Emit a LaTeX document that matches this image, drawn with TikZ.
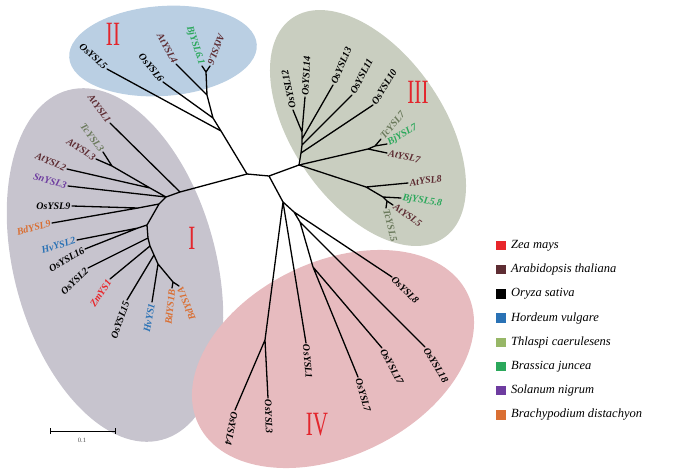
\documentclass[tikz,border=0pt]{standalone}
\usepackage{fontspec}
\setmainfont{Liberation Serif}
\definecolor{cI}{HTML}{C7C4CE}
\definecolor{cII}{HTML}{BACFE3}
\definecolor{cIII}{HTML}{C9CEC0}
\definecolor{cIV}{HTML}{E7BBBF}
\definecolor{zm}{HTML}{E8262B}
\definecolor{at}{HTML}{5E2D33}
\definecolor{hv}{HTML}{2A72B5}
\definecolor{tc}{HTML}{97B767}
\definecolor{tcd}{HTML}{6B7A5C}
\definecolor{bj}{HTML}{2BA85B}
\definecolor{sn}{HTML}{6E3CA0}
\definecolor{bd}{HTML}{DA6F33}
\definecolor{rn}{HTML}{E3262D}
\begin{document}
\begin{tikzpicture}[x=1pt,y=-1pt,
  br/.style={line width=1.3pt,line cap=round,line join=round},
  lab/.style={font=\fontsize{10}{11}\selectfont\bfseries\itshape,inner sep=1.5pt},
  le/.style={lab,anchor=east},
  lw/.style={lab,anchor=west},
  roman/.style={text=rn,font=\fontsize{34}{34}\selectfont,xscale=0.62,inner sep=0pt},
  sq/.style={minimum size=9.5pt,inner sep=0pt},
  legt/.style={font=\fontsize{12.5}{13}\selectfont\itshape,anchor=west,inner sep=0pt}]
\useasboundingbox (0,0) rectangle (683,474);
% clade backgrounds
\fill[cI, rotate around={15:(115,265)}] (115,265) ellipse (101 and 181);
\fill[cII, rotate around={4:(163,51)}] (163,51) ellipse (94 and 45);
\fill[cIII, rotate around={34.6:(368,128)}] (368,128) ellipse (75.5 and 133.5);
\fill[cIV, rotate around={26:(333,359)}] (333,359) ellipse (149.6 and 96.9);
% internal nodes
\coordinate (A) at (247,174); \coordinate (B) at (269,176);
\coordinate (D1) at (221,131); \coordinate (D2) at (213,118);
\coordinate (D3) at (207,95); \coordinate (D4) at (206,72);
\coordinate (H3) at (299,165); \coordinate (U1) at (301,153);
\coordinate (U2) at (302,145); \coordinate (U3) at (302,139);
\coordinate (U4) at (302,132);
\coordinate (T1) at (368,149); \coordinate (T2) at (375,146);
\coordinate (G1) at (366,187); \coordinate (G2) at (383,197);
\coordinate (G3) at (387,201);
\coordinate (N4a) at (283,202); \coordinate (N4b) at (294,212);
\coordinate (N4c) at (300,222); \coordinate (N4d) at (313,267);
\coordinate (N4f) at (265,340);
\coordinate (C1) at (180,192); \coordinate (C2) at (166,197);
\coordinate (C3) at (150,188); \coordinate (C4) at (112,166);
\coordinate (C5) at (159,204); \coordinate (C6) at (138,208);
\coordinate (C7) at (147,225); \coordinate (C8) at (138,228);
\coordinate (C9) at (148,238); \coordinate (C10) at (150,246);
\coordinate (C11) at (154,255); \coordinate (C12) at (158,264);
\coordinate (C13) at (173,282);
% leaves
\coordinate (Os5) at (107,69); \coordinate (Os6) at (163,82);
\coordinate (At4) at (176,64); \coordinate (Bj61) at (202,66);
\coordinate (At6) at (210,66);
\coordinate (Os10) at (373,105); \coordinate (Os11) at (352,95);
\coordinate (Os13) at (333,85); \coordinate (Os12) at (293,110);
\coordinate (Os14) at (305,97);
\coordinate (Tc7) at (381,139); \coordinate (Bj7) at (387,144);
\coordinate (At7) at (387,153);
\coordinate (At8) at (408,183); \coordinate (Bj58) at (401,198);
\coordinate (At5) at (393,205); \coordinate (Tc5) at (386,208);
\coordinate (Os4) at (235,410); \coordinate (Os3) at (268,398);
\coordinate (Os1) at (306,343); \coordinate (Os8) at (392,277);
\coordinate (Os18) at (425,347); \coordinate (Os17) at (382,348);
\coordinate (Os7) at (358,377);
\coordinate (At1) at (110,123); \coordinate (Tc3) at (103,152);
\coordinate (At3) at (96,159); \coordinate (At2) at (67,169);
\coordinate (Sn3) at (68,186); \coordinate (Os9) at (72,206);
\coordinate (Bd9) at (52,223); \coordinate (Hv2) at (77,240);
\coordinate (Os16) at (85,249); \coordinate (Os2) at (88,268);
\coordinate (Zm1) at (110,279); \coordinate (Os15) at (127,300);
\coordinate (Hv1) at (152,302); \coordinate (Bd1B) at (172,288);
\coordinate (Bd1A) at (179,286);
% branches
\draw[br] (A) -- (B) (B) -- (H3) (B) -- (N4a);
\draw[br] (A) -- (D1) -- (D2) -- (D3) -- (D4)
  (D1) -- (Os5) (D2) -- (Os6) (D3) -- (At4) (D4) -- (Bj61) (D4) -- (At6);
\draw[br] (H3) -- (U1) -- (U2) -- (U3) -- (U4)
  (U1) -- (Os10) (U2) -- (Os11) (U3) -- (Os13) (U4) -- (Os12) (U4) -- (Os14);
\draw[br] (H3) -- (T1) -- (T2) (T1) -- (At7) (T2) -- (Tc7) (T2) -- (Bj7);
\draw[br] (H3) -- (G1) -- (G2) -- (G3) (G1) -- (At8) (G2) -- (Bj58)
  (G3) -- (At5) (G3) -- (Tc5);
\draw[br] (N4a) -- (N4f) (N4f) -- (Os4) (N4f) -- (Os3) (N4a) -- (Os1)
  (N4a) -- (N4b) -- (N4c) -- (N4d) (N4b) -- (Os8) (N4c) -- (Os18)
  (N4d) -- (Os17) (N4d) -- (Os7);
\draw[br] (A) -- (C1) -- (C2) (C1) -- (At1) (C2) -- (C3) -- (C4)
  (C3) -- (At2) (C4) -- (Tc3) (C4) -- (At3) (C2) -- (Sn3)
  (C2) -- (C5) -- (C6) (C6) -- (Os9) (C6) -- (Bd9)
  (C5) -- (C7) -- (C8) (C8) -- (Hv2) (C8) -- (Os16)
  (C7) -- (C9) -- (C10) -- (C11) -- (C12) -- (C13)
  (C9) -- (Os2) (C10) -- (Zm1) (C11) -- (Os15) (C12) -- (Hv1)
  (C13) -- (Bd1B) (C13) -- (Bd1A);
% labels clade II
\node[le,rotate=-43] (lOs5) at (Os5) {OsYSL5};
\node[le,rotate=-51] (lOs6) at (Os6) {OsYSL6};
\node[le,rotate=-61,text=at] (lAt4) at (At4) {AtYSL4};
\node[le,rotate=-72,text=bj] (lBj61) at (Bj61) {BjYSL6.1};
\node[le,rotate=-110,text=at] (lAt6) at (At6) {AtYSL6};
% labels clade III
\node[lw,rotate=102] (lOs12) at (Os12) {OsYSL12};
\node[lw,rotate=87] (lOs14) at (Os14) {OsYSL14};
\node[lw,rotate=67] (lOs13) at (Os13) {OsYSL13};
\node[lw,rotate=63] (lOs11) at (Os11) {OsYSL11};
\node[lw,rotate=58] (lOs10) at (Os10) {OsYSL10};
\node[lw,rotate=50,text=tcd] (lTc7) at (Tc7) {TcYSL7};
\node[lw,rotate=30,text=bj] (lBj7) at (Bj7) {BjYSL7};
\node[lw,rotate=-12,text=at] (lAt7) at (At7) {AtYSL7};
\node[lw,rotate=8,text=at] (lAt8) at (At8) {AtYSL8};
\node[lw,rotate=-8,text=bj] (lBj58) at (Bj58) {BjYSL5.8};
\node[lw,rotate=-35,text=at] (lAt5) at (At5) {AtYSL5};
\node[lw,rotate=-76,text=tcd] (lTc5) at (Tc5) {TcYSL5};
% labels clade IV
\node[lw,rotate=-45] (lOs8) at (Os8) {OsYSL8};
\node[lw,rotate=-59] (lOs18) at (Os18) {OsYSL18};
\node[lw,rotate=-62] (lOs17) at (Os17) {OsYSL17};
\node[lw,rotate=-74] (lOs7) at (Os7) {OsYSL7};
\node[lw,rotate=-85] (lOs1) at (Os1) {OsYSL1};
\node[lw,rotate=-88] (lOs3) at (Os3) {OsYSL3};
\node[lw,rotate=-101] (lOs4) at (Os4) {OsYSL4};
% labels clade I
\node[le,rotate=-54,text=at] (lAt1) at (At1) {AtYSL1};
\node[le,rotate=-53,text=tcd] (lTc3) at (Tc3) {TcYSL3};
\node[le,rotate=-33,text=at] (lAt3) at (At3) {AtYSL3};
\node[le,rotate=-24,text=at] (lAt2) at (At2) {AtYSL2};
\node[le,rotate=-16,text=sn] (lSn3) at (Sn3) {SnYSL3};
\node[le,rotate=0] (lOs9) at (Os9) {OsYSL9};
\node[le,rotate=14,text=bd] (lBd9) at (Bd9) {BdYSL9};
\node[le,rotate=16,text=hv] (lHv2) at (Hv2) {HvYSL2};
\node[le,rotate=30] (lOs16) at (Os16) {OsYSL16};
\node[le,rotate=44] (lOs2) at (Os2) {OsYSL2};
\node[le,rotate=57,text=zm] (lZm1) at (Zm1) {ZmYS1};
\node[le,rotate=71] (lOs15) at (Os15) {OsYSL15};
\node[le,rotate=80,text=hv] (lHv1) at (Hv1) {HvYS1};
\node[le,rotate=84,text=bd] (lBd1B) at (Bd1B) {BdYS1B};
\node[le,rotate=112,text=bd] (lBd1A) at (Bd1A) {BdYS1A};
% roman numerals
\node[roman] (nII) at (113,34) {II};
\node[roman] (nIII) at (418,92) {III};
\node[roman] (nI) at (192,238) {I};
\node[roman] (nIV) at (317,425) {IV};
% legend
\foreach \c/\t [count=\i from 0] in {zm/Zea mays, at/Arabidopsis thaliana, black/Oryza sativa, hv/Hordeum vulgare, tc/Thlaspi caerulesens, bj/Brassica juncea, sn/Solanum nigrum, bd/Brachypodium distachyon}{
  \node[sq,fill=\c] (sq\i) at (501,245.5+24.2*\i) {};
  \node[legt] (lg\i) at (511,245.5+24.2*\i) {\t};
}
% scale bar
\coordinate (sb1) at (50,431); \coordinate (sb2) at (115,431);
\draw[line width=1pt] (sb1) -- (sb2);
\draw[line width=1pt] ([yshift=-3pt]sb1) -- ([yshift=3pt]sb1) ([yshift=-3pt]sb2) -- ([yshift=3pt]sb2);
\node[font=\fontsize{6.5}{7}\selectfont,text=black!70,inner sep=0pt] (sbl) at (82,440) {0.1};
\end{tikzpicture}
\end{document}
